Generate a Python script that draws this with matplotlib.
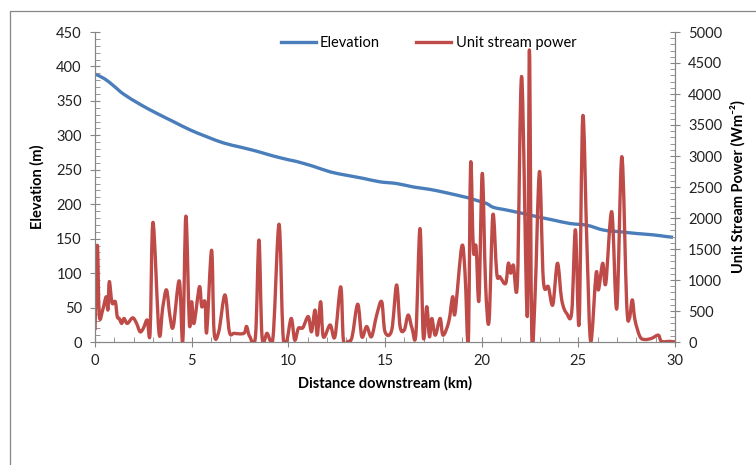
import numpy as np
import matplotlib.pyplot as plt
from matplotlib.ticker import MultipleLocator
from matplotlib.patches import Rectangle, PathPatch
from matplotlib.path import Path
from matplotlib.lines import Line2D

# ==============================
# DATA
# ==============================

elev_km = [0.0, 0.5, 1.0, 1.47, 2.33, 3.19, 4.05, 4.91, 5.78, 6.64, 7.5, 8.36,
           9.22, 10.09, 10.43, 11.3, 12.16, 13.02, 13.88, 14.74, 15.61, 16.47,
           17.33, 18.19, 19.05, 19.4, 19.92, 20.26, 20.6, 21.12, 21.99, 22.85,
           23.71, 24.57, 25.44, 26.3, 27.16, 28.02, 28.88, 29.57, 29.9]
elevation = [389, 382, 371, 360, 345, 332, 320, 308, 298, 289, 283, 277,
             270, 264, 262, 255, 247, 242, 237.5, 232.5, 230, 225,
             221.5, 216.5, 211, 208.5, 204, 201, 195.5, 192.5, 187.5, 182,
             177, 172, 169.5, 162.5, 160, 157.5, 155.5, 153, 152]

power_km = [0.0, 0.12, 0.22, 0.4, 0.58, 0.67, 0.74, 0.88, 1.05, 1.15, 1.25,
            1.38, 1.5, 1.67, 1.95, 2.15, 2.33, 2.5, 2.7, 2.85, 3.0,
            3.31, 3.5, 3.7, 3.88, 4.05, 4.36, 4.54, 4.7, 4.88, 5.0, 5.12,
            5.4, 5.52, 5.69, 5.78, 6.03, 6.16, 6.4, 6.72, 6.95, 7.2, 7.7,
            7.84, 8.0, 8.3, 8.48, 8.64, 8.9, 9.1, 9.24, 9.52, 9.72, 9.91,
            10.15, 10.33, 10.52, 10.75, 11.03, 11.2, 11.38, 11.5, 11.67, 11.81,
            12.16, 12.41, 12.71, 12.85, 13.1, 13.3, 13.59, 13.8, 14.05, 14.3,
            14.57, 14.83, 15.0, 15.35, 15.6, 15.78, 16.0, 16.2, 16.4, 16.6,
            16.81, 16.98, 17.16, 17.3, 17.42, 17.6, 17.85, 18.0, 18.3, 18.5,
            18.62, 18.97, 19.14, 19.31, 19.43, 19.57, 19.71, 19.86, 20.03,
            20.2, 20.38, 20.58, 20.78, 20.95, 21.24, 21.38, 21.5, 21.64,
            21.85, 22.07, 22.36, 22.47, 22.59, 22.76, 22.99, 23.19, 23.45,
            23.68, 23.92, 24.14, 24.4, 24.66, 24.85, 25.04, 25.23, 25.45,
            25.64, 25.92, 26.04, 26.26, 26.42, 26.73, 26.99, 27.25, 27.5,
            27.64, 27.79, 27.93, 28.19, 28.45, 28.8, 29.14, 29.3, 29.74, 30.0]
power = [190, 1560, 430, 520, 730, 520, 975, 630, 650, 410, 380,
         300, 380, 300, 390, 300, 165, 220, 355, 150, 1930,
         150, 550, 840, 410, 250, 985, 10, 2030, 300, 650, 300,
         890, 570, 650, 165, 1480, 165, 165, 760, 165, 140, 140,
         250, 90, 90, 1645, 85, 140, 10, 200, 1900, 140, 10,
         380, 30, 220, 230, 410, 165, 515, 110, 650, 85,
         275, 85, 890, 30, 10, 85, 610, 85, 250, 85,
         435, 650, 165, 195, 920, 250, 195, 435, 220, 140,
         1830, 85, 570, 85, 380, 110, 380, 110, 330, 730,
         460, 1540, 1110, 10, 2880, 1480, 1540, 680, 2720,
         950, 330, 2050, 1110, 1050, 945, 1270, 1110, 1240,
         970, 4280, 410, 4710, 140, 730, 2750, 1000, 890,
         600, 1270, 680, 460, 490, 1810, 300, 3640, 1500,
         10, 1110, 840, 1270, 945, 2100, 540, 2990, 620,
         380, 680, 355, 85, 40, 60, 110, 10, 10, 0]

BLUE = "#4A7EBB"
RED = "#BE4B48"
GRAY = "#868686"

plt.rcParams["font.family"] = ["Lato", "DejaVu Sans"]


# Excel-style smoothed line: cubic bezier through every data point
def smooth_path(x, y):
    p = np.column_stack([x, y]).astype(float)
    p = np.vstack([p[0], p, p[-1]])
    verts = [p[1]]
    codes = [Path.MOVETO]
    for i in range(1, len(p) - 2):
        c1 = p[i] + (p[i + 1] - p[i - 1]) / 6
        c2 = p[i + 1] - (p[i + 2] - p[i]) / 6
        verts += [c1, c2, p[i + 1]]
        codes += [Path.CURVE4] * 3
    return Path(verts, codes)


# ==============================
# PLOT
# ==============================

fig = plt.figure(figsize=(7.56, 4.65), dpi=100)
fig.patches.append(Rectangle((10 / 756, -0.1), 1.2, 1 - 11 / 465 + 0.1,
                             transform=fig.transFigure, fill=False,
                             edgecolor=GRAY, linewidth=0.9))

ax = fig.add_axes([95 / 756, 1 - 342 / 465, 580 / 756, 310 / 465])
ax2 = ax.twinx()

ax.add_patch(PathPatch(smooth_path(elev_km, elevation), fill=False,
                       edgecolor=BLUE, lw=2.4, joinstyle="round"))
ax2.add_patch(PathPatch(smooth_path(power_km, power), fill=False,
                        edgecolor=RED, lw=2.4, joinstyle="round"))

ax.set_xlim(0, 30)
ax.set_ylim(0, 450)
ax2.set_ylim(0, 5000)

ax.xaxis.set_major_locator(MultipleLocator(5))
ax.xaxis.set_minor_locator(MultipleLocator(1))
ax.yaxis.set_major_locator(MultipleLocator(50))
ax.yaxis.set_minor_locator(MultipleLocator(10))
ax2.yaxis.set_major_locator(MultipleLocator(500))
ax2.yaxis.set_minor_locator(MultipleLocator(100))

for a in (ax, ax2):
    a.spines["top"].set_visible(False)
    for s in a.spines.values():
        s.set_color(GRAY)
    a.tick_params(which="major", direction="inout", length=7, color=GRAY,
                  labelsize=10.5, labelcolor="#222222")
    a.tick_params(which="minor", direction="in", length=3.5, color=GRAY)
    a.patch.set_visible(False)

ax.tick_params(axis="x", pad=5)
ax.tick_params(axis="y", pad=6)
ax2.tick_params(axis="y", pad=6)

ax.set_xlabel("Distance downstream (km)", fontweight="bold", fontsize=10.5,
              labelpad=6)
ax.set_ylabel("Elevation (m)", fontweight="bold", fontsize=10.5, labelpad=8)
ax2.set_ylabel("Unit Stream Power (Wm\u207b\u00b2)", fontweight="bold",
               fontsize=10.5, labelpad=6)

handles = [Line2D([], [], color=BLUE, lw=2.4), Line2D([], [], color=RED, lw=2.4)]
ax2.legend(handles, ["Elevation", "Unit stream power"], ncol=2,
           loc="center", bbox_to_anchor=(0.575, 0.965), frameon=False,
           fontsize=10.5, handlelength=2.4, columnspacing=2.5,
           handletextpad=0.3)

fig.savefig("out.png", dpi=100)
